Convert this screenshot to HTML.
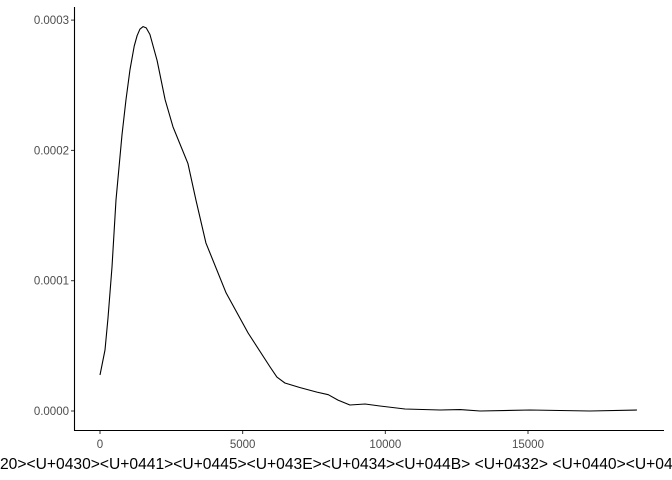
<!DOCTYPE html>
<html><head><meta charset="utf-8"><style>
html,body{margin:0;padding:0;background:#fff;width:672px;height:480px;overflow:hidden}
text{font-family:"Liberation Sans",sans-serif}
</style></head><body>
<svg id="chart" width="672" height="480" xmlns="http://www.w3.org/2000/svg">
<g id="axes"></g>
<text x="0" y="469" font-size="15.5" fill="#000" textLength="690" lengthAdjust="spacingAndGlyphs">20&gt;&lt;U+0430&gt;&lt;U+0441&gt;&lt;U+0445&gt;&lt;U+043E&gt;&lt;U+0434&gt;&lt;U+044B&gt; &lt;U+0432&gt; &lt;U+0440&gt;&lt;U+0441</text>
</svg>
<script>
const xVals=[0,175,280,420,560,770,910,1050,1200,1300,1400,1510,1620,1750,2000,2280,2560,3080,3360,3710,4420,5190,5960,6200,6480,7000,7600,8000,8340,8760,9290,9810,10690,11920,12620,13320,15070,17170,18820];
const yVals=[2.76e-5,4.68e-5,7.14e-5,1.105e-4,1.62e-4,2.12e-4,2.39e-4,2.62e-4,2.80e-4,2.88e-4,2.93e-4,2.95e-4,2.94e-4,2.89e-4,2.69e-4,2.39e-4,2.18e-4,1.90e-4,1.62e-4,1.29e-4,9.06e-5,5.99e-5,3.38e-5,2.6e-5,2.15e-5,1.8e-5,1.45e-5,1.25e-5,8.4e-6,4.6e-6,5.4e-6,3.8e-6,1.5e-6,8e-7,1.1e-6,0,8e-7,0,8e-7];
const xTicks=[0,5000,10000,15000];
const xTickLabels=["0","5000","10000","15000"];
const yTicks=[0,0.0001,0.0002,0.0003];
const yTickLabels=["0.0000","0.0001","0.0002","0.0003"];
const NS="http://www.w3.org/2000/svg";
const sx=v=>100+v*0.028533;
const sy=v=>411-v*1303000;
const svg=document.getElementById('chart');
const g=document.getElementById('axes');
function mk(t,a){const e=document.createElementNS(NS,t);for(const k in a)e.setAttribute(k,a[k]);return e;}
let yl=mk('line',{x1:74.5,y1:7,x2:74.5,y2:430.5,stroke:'#000','stroke-width':1.1});


g.appendChild(yl);
let xl=mk('line',{x1:74,y1:430.5,x2:664,y2:430.5,stroke:'#000','stroke-width':1.1});


g.appendChild(xl);
yTicks.forEach((v,i)=>{
 const y=sy(v);
 let t=mk('line',{x1:71,y1:y,x2:74,y2:y,stroke:'#333','stroke-width':1});
 
 
 g.appendChild(t);
 let l=mk('text',{x:69,y:y+4,'text-anchor':'end','font-size':11.5,fill:'#4d4d4d'});
 
 
 l.textContent=yTickLabels[i];g.appendChild(l);
});
xTicks.forEach((v,i)=>{
 const x=sx(v);
 let t=mk('line',{x1:x,y1:431,x2:x,y2:434,stroke:'#333','stroke-width':1});
 
 
 g.appendChild(t);
 let l=mk('text',{x:x,y:448,'text-anchor':'middle','font-size':11.5,fill:'#4d4d4d'});
 
 
 l.textContent=xTickLabels[i];g.appendChild(l);
});
const pts=xVals.map((x,i)=>sx(x).toFixed(1)+','+sy(yVals[i]).toFixed(1)).join(' ');
let p=mk('polyline',{points:pts,fill:'none',stroke:'#000','stroke-width':1.1,'stroke-linejoin':'round'});


svg.appendChild(p);
</script>
</body></html>
